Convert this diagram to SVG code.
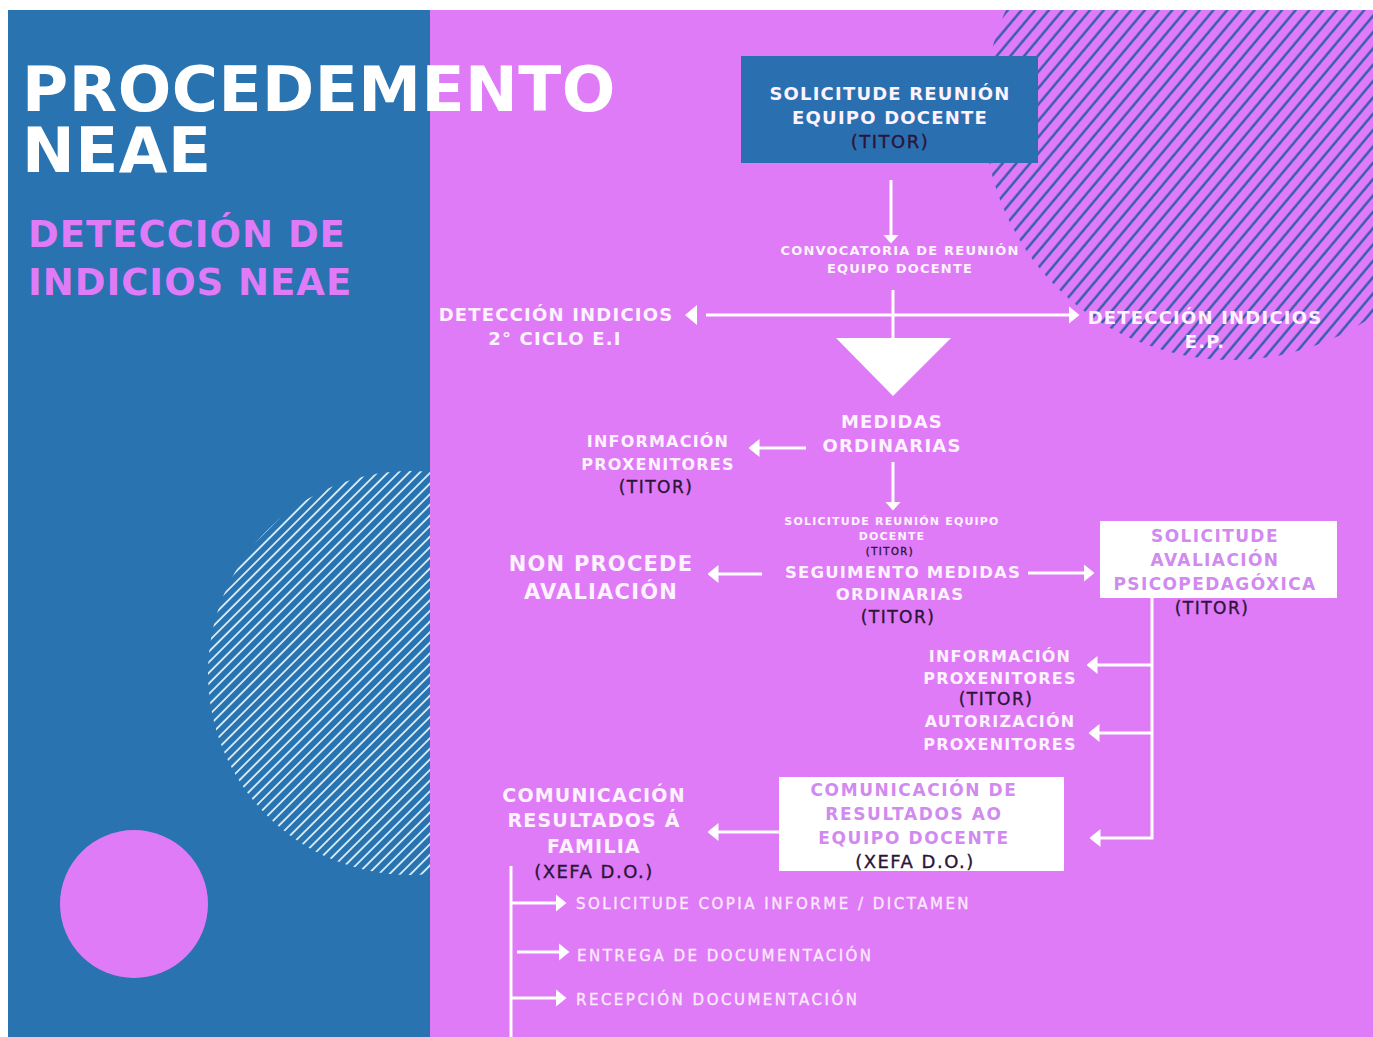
<svg xmlns="http://www.w3.org/2000/svg" width="1373" height="1037" viewBox="0 0 1373 1037">
<style>
text{font-family:"DejaVu Sans","Liberation Sans",sans-serif}
.ttl{font-size:63px;font-weight:bold;fill:#ffffff;letter-spacing:0.5px}
.sub{font-size:37px;font-weight:bold;fill:#df7bf7;letter-spacing:1px}
.lbl{font-weight:bold;fill:#fdf2fe;text-anchor:middle;letter-spacing:1.2px}
.bx{font-weight:bold;fill:#d18aef;text-anchor:middle}
.dk{font-weight:normal;fill:#2b1538;stroke:#2b1538;stroke-width:0.35px;text-anchor:middle;letter-spacing:1.5px}
.lst{font-size:15px;fill:#fbe9fd;stroke:#fbe9fd;stroke-width:0.35px;letter-spacing:2.5px}
.cn{stroke:#ffffff;stroke-width:3;fill:none}
</style>
<defs>
<marker id="ah" viewBox="0 0 11 18" refX="0.5" refY="9" markerWidth="11" markerHeight="18" markerUnits="userSpaceOnUse" orient="auto">
<path d="M0,0 L11,9 L0,18 z" fill="#ffffff"/>
</marker>
<marker id="ahs" viewBox="0 0 9 16" refX="0.5" refY="8" markerWidth="9" markerHeight="16" markerUnits="userSpaceOnUse" orient="auto">
<path d="M0,0 L9,8 L0,16 z" fill="#ffffff"/>
</marker>
<pattern id="hatchDark" patternUnits="userSpaceOnUse" width="10.5" height="10.5" patternTransform="rotate(40)">
<line x1="1.5" y1="0" x2="1.5" y2="10.5" stroke="#2c5ba8" stroke-width="2.3"/>
</pattern>
<pattern id="hatchLight" patternUnits="userSpaceOnUse" width="7.5" height="7.5" patternTransform="rotate(45)">
<line x1="1" y1="0" x2="1" y2="7.5" stroke="#dcf1fc" stroke-width="1.8"/>
</pattern>
<clipPath id="clipPink"><rect x="430" y="10" width="943" height="1027"/></clipPath>
<clipPath id="clipBlue"><rect x="8" y="10" width="422" height="1027"/></clipPath>
</defs>

<!-- background -->
<rect x="0" y="0" width="1373" height="1037" fill="#ffffff"/>
<rect x="8" y="10" width="422" height="1027" fill="#2873b0"/>
<rect x="430" y="10" width="943" height="1027" fill="#df7bf7"/>
<circle cx="1232" cy="112" r="248" fill="url(#hatchDark)" clip-path="url(#clipPink)"/>
<circle cx="410" cy="673" r="202" fill="url(#hatchLight)" clip-path="url(#clipBlue)"/>
<circle cx="134" cy="904" r="74" fill="#df7bf7"/>

<!-- titles -->
<g id="title">
<text class="ttl"><tspan x="22" y="111">PROCEDEMENTO</tspan><tspan x="22" y="172">NEAE</tspan></text>
</g>
<g id="subtitle">
<text class="sub"><tspan x="28" y="247">DETECCIÓN DE</tspan><tspan x="28" y="295">INDICIOS NEAE</tspan></text>
</g>

<!-- connectors -->
<g id="connectors">
<path class="cn" d="M891,180 V235" marker-end="url(#ahs)"/>
<path class="cn" d="M893,290 V340"/>
<path class="cn" d="M706,315 H1069" marker-end="url(#ah)"/>
<polygon points="697,305 697,325 685,315" fill="#ffffff"/>
<polygon points="836,338 951,338 893,396" fill="#ffffff"/>
<path class="cn" d="M806,448 H759" marker-end="url(#ah)"/>
<path class="cn" d="M893,462 V502" marker-end="url(#ahs)"/>
<path class="cn" d="M762,574 H718" marker-end="url(#ah)"/>
<path class="cn" d="M1028,573 H1084" marker-end="url(#ah)"/>
<path class="cn" d="M1152,598 V838 H1100" marker-end="url(#ah)"/>
<path class="cn" d="M1152,665 H1097" marker-end="url(#ah)"/>
<path class="cn" d="M1152,733 H1099" marker-end="url(#ah)"/>
<path class="cn" d="M779,832 H718" marker-end="url(#ah)"/>
<path class="cn" d="M511,866 V1037"/>
<path class="cn" d="M511,903 H556" marker-end="url(#ah)"/>
<path class="cn" d="M517,952 H559" marker-end="url(#ah)"/>
<path class="cn" d="M511,998 H556" marker-end="url(#ah)"/>
</g>

<!-- nodes -->
<g id="n-solicitude-reunion">
<rect x="741" y="56" width="297" height="107" fill="#2a6faf"/>
<text class="lbl" x="890" y="100" font-size="18">SOLICITUDE REUNIÓN</text>
<text class="lbl" x="890" y="124" font-size="18">EQUIPO DOCENTE</text>
<text class="dk" x="890" y="148" font-size="18">(TITOR)</text>
</g>
<g id="n-convocatoria">
<text class="lbl" x="900" y="255" font-size="13" letter-spacing="1">CONVOCATORIA DE REUNIÓN</text>
<text class="lbl" x="900" y="273" font-size="13" letter-spacing="1">EQUIPO DOCENTE</text>
</g>
<g id="n-deteccion-ei">
<text class="lbl" x="556" y="321" font-size="18">DETECCIÓN INDICIOS</text>
<text class="lbl" x="555" y="345" font-size="18">2° CICLO E.I</text>
</g>
<g id="n-deteccion-ep">
<text class="lbl" x="1205" y="324" font-size="18">DETECCIÓN INDICIOS</text>
<text class="lbl" x="1205" y="348" font-size="18">E.P.</text>
</g>
<g id="n-medidas">
<text class="lbl" x="892" y="428" font-size="18">MEDIDAS</text>
<text class="lbl" x="892" y="452" font-size="18">ORDINARIAS</text>
</g>
<g id="n-info-proxenitores-1">
<text class="lbl" x="658" y="447" font-size="16" letter-spacing="1.5">INFORMACIÓN</text>
<text class="lbl" x="658" y="470" font-size="16" letter-spacing="1.5">PROXENITORES</text>
<text class="dk" x="656" y="493" font-size="17">(TITOR)</text>
</g>
<g id="n-solicitude-reunion-2">
<text class="lbl" x="892" y="525" font-size="11" letter-spacing="1">SOLICITUDE REUNIÓN EQUIPO</text>
<text class="lbl" x="892" y="540" font-size="11" letter-spacing="1">DOCENTE</text>
<text class="dk" x="890" y="555" font-size="10" letter-spacing="0.5">(TITOR)</text>
</g>
<g id="n-seguimento">
<text class="lbl" x="903" y="578" font-size="16.5" letter-spacing="1">SEGUIMENTO MEDIDAS</text>
<text class="lbl" x="900" y="600" font-size="16.5" letter-spacing="1">ORDINARIAS</text>
<text class="dk" x="898" y="623" font-size="17">(TITOR)</text>
</g>
<g id="n-non-procede">
<text class="lbl" x="601" y="571" font-size="21">NON PROCEDE</text>
<text class="lbl" x="601" y="599" font-size="21">AVALIACIÓN</text>
</g>
<g id="n-solicitude-avaliacion">
<rect x="1100" y="521" width="237" height="77" fill="#ffffff"/>
<text class="bx" x="1215" y="542" font-size="17" letter-spacing="1.4">SOLICITUDE</text>
<text class="bx" x="1215" y="566" font-size="17" letter-spacing="1.4">AVALIACIÓN</text>
<text class="bx" x="1215" y="590" font-size="17" letter-spacing="1.4">PSICOPEDAGÓXICA</text>
<text class="dk" x="1212" y="614" font-size="17">(TITOR)</text>
</g>
<g id="n-info-proxenitores-2">
<text class="lbl" x="1000" y="662" font-size="16" letter-spacing="1.4">INFORMACIÓN</text>
<text class="lbl" x="1000" y="684" font-size="16" letter-spacing="1.4">PROXENITORES</text>
<text class="dk" x="996" y="705" font-size="17">(TITOR)</text>
</g>
<g id="n-autorizacion">
<text class="lbl" x="1000" y="727" font-size="16" letter-spacing="1.4">AUTORIZACIÓN</text>
<text class="lbl" x="1000" y="750" font-size="16" letter-spacing="1.4">PROXENITORES</text>
</g>
<g id="n-comunicacion-equipo">
<rect x="779" y="777" width="285" height="94" fill="#ffffff"/>
<text class="bx" x="914" y="796" font-size="17" letter-spacing="1.6">COMUNICACIÓN DE</text>
<text class="bx" x="914" y="820" font-size="17" letter-spacing="1.6">RESULTADOS AO</text>
<text class="bx" x="914" y="844" font-size="17" letter-spacing="1.6">EQUIPO DOCENTE</text>
<text class="dk" x="915" y="868" font-size="18">(XEFA D.O.)</text>
</g>
<g id="n-comunicacion-familia">
<text class="lbl" x="594" y="802" font-size="19" letter-spacing="1.4">COMUNICACIÓN</text>
<text class="lbl" x="594" y="827" font-size="19" letter-spacing="1.4">RESULTADOS Á</text>
<text class="lbl" x="594" y="853" font-size="19" letter-spacing="1.4">FAMILIA</text>
<text class="dk" x="594" y="878" font-size="18">(XEFA D.O.)</text>
</g>
<g id="n-copia">
<text class="lst" x="576" y="909">SOLICITUDE COPIA INFORME / DICTAMEN</text>
</g>
<g id="n-entrega">
<text class="lst" x="577" y="961">ENTREGA DE DOCUMENTACIÓN</text>
</g>
<g id="n-recepcion">
<text class="lst" x="576" y="1005">RECEPCIÓN DOCUMENTACIÓN</text>
</g>
</svg>
